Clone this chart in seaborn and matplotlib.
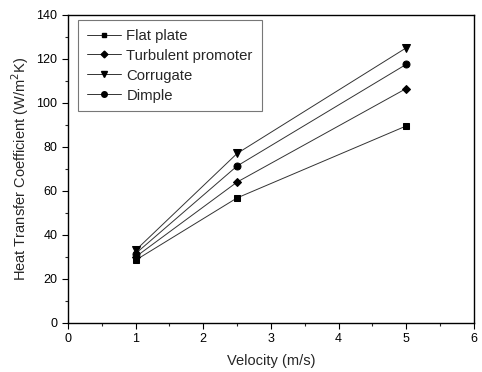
import matplotlib
matplotlib.use("Agg")
import matplotlib.pyplot as plt
import seaborn as sns
import pandas as pd
from matplotlib.ticker import MultipleLocator
from matplotlib.lines import Line2D

velocity = [1, 2.5, 5]
flat_plate = [28.5, 56.8, 89.5]
turbulent = [30.0, 64.0, 106.5]
corrugate = [33.0, 77.0, 125.0]
dimple = [31.5, 71.3, 117.5]
series_names = ["Flat plate", "Turbulent promoter", "Corrugate", "Dimple"]

sns.set_theme(style="ticks")
plt.rcParams['font.family'] = ['Liberation Sans', 'DejaVu Sans']

rows = []
for name, vals in zip(series_names, [flat_plate, turbulent, corrugate, dimple]):
    for v, h in zip(velocity, vals):
        rows.append({"Velocity": v, "h": h, "Series": name})
df = pd.DataFrame(rows)

fig = plt.figure(figsize=(4.82, 3.72), dpi=100)
ax = fig.add_axes([0.141, 0.132, 0.842, 0.828])

markers = {"Flat plate": "s", "Turbulent promoter": "D", "Corrugate": "v", "Dimple": "o"}
sizes = {"Flat plate": 4.0, "Turbulent promoter": 4.3, "Corrugate": 5.5, "Dimple": 5.0}
palette = {n: "black" for n in series_names}

sns.lineplot(data=df, x="Velocity", y="h", hue="Series", style="Series",
             markers=markers, dashes=False, palette=palette, ax=ax,
             linewidth=0.7, markersize=5, markeredgecolor="black",
             hue_order=series_names, style_order=series_names, legend=False)

for line, name in zip(ax.get_lines(), series_names):
    line.set_markersize(sizes[name])
    line.set_color("#333333")
    line.set_markerfacecolor("black")
    line.set_markeredgecolor("black")

handles = []
for name in series_names:
    handles.append(Line2D([], [], color="#333333", linewidth=0.7, marker=markers[name],
                          markersize=sizes[name] * 0.8, markerfacecolor="black",
                          markeredgecolor="black", label=name))

ax.set_xlim(0, 6)
ax.set_ylim(0, 140)
ax.xaxis.set_major_locator(MultipleLocator(1))
ax.xaxis.set_minor_locator(MultipleLocator(0.5))
ax.yaxis.set_major_locator(MultipleLocator(20))
ax.yaxis.set_minor_locator(MultipleLocator(10))
ax.tick_params(which="major", direction="out", length=4, width=0.8, labelsize=9, colors="black")
ax.tick_params(which="minor", direction="out", length=2, width=0.8)
for s in ax.spines.values():
    s.set_linewidth(1.0)
    s.set_color("black")

ax.set_xlabel("Velocity (m/s)", fontsize=10.5, labelpad=6)
ax.set_ylabel("Heat Transfer Coefficient (W/m$^2$K)", fontsize=10.5, labelpad=4)

leg = ax.legend(handles=handles, loc="upper left", bbox_to_anchor=(0.025, 0.984), fontsize=10.7,
                frameon=True, fancybox=False, edgecolor="#555555", borderaxespad=0,
                handlelength=2.3, handletextpad=0.35, borderpad=0.6, labelspacing=0.4)
leg.get_frame().set_linewidth(0.8)

fig.savefig("out.png", dpi=100)
